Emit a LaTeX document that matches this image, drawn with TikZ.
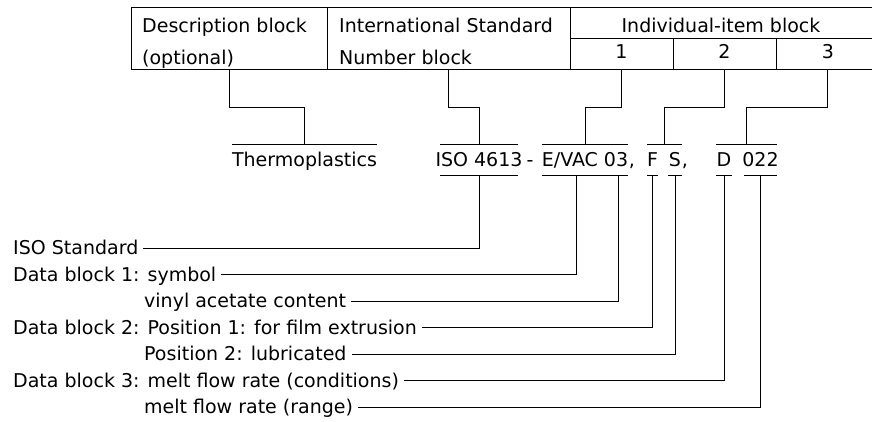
\documentclass[tikz,border=0pt]{standalone}
\usepackage{fontspec}
\setmainfont{DejaVu Sans}
\usetikzlibrary{calc}
\tikzset{
  cell/.style ={rectangle, draw=black, line width=0.9pt, inner sep=0pt},
  txt/.style  ={font=\fontsize{19}{22}\selectfont, inner sep=0pt},
  code/.style ={txt, minimum height=31pt, text height=13.9pt, text depth=0pt},
  lab/.style  ={txt, inner xsep=5pt, text height=13.9pt, text depth=0pt, anchor=west},
  ln/.style   ={draw=black, line width=0.9pt},
}

\begin{document}
\begin{tikzpicture}[x=1pt, y=-1pt]
\path[use as bounding box] (0,0) rectangle (872,421);
\clip (0,0) rectangle (872,421);
% table of blocks
\node[cell, minimum width=196pt, minimum height=62pt] (desc) at (229,38) {};
\node[cell, minimum width=243pt, minimum height=62pt] (isn) at (448.5,38) {};
\node[cell, minimum width=310pt, minimum height=31pt] (head) at (725,22.5) {};
\node[cell, minimum width=103pt, minimum height=31pt] (c1) at (621.5,53.5) {};
\node[cell, minimum width=103pt, minimum height=31pt] (c2) at (724.5,53.5) {};
\node[cell, minimum width=103pt, minimum height=31pt] (c3) at (827.5,53.5) {};
\node[txt, anchor=base west] (desct) at (142,32) {Description block};
\node[txt, anchor=base west] (desco) at (142,64) {(optional)};
\node[txt, anchor=base west] (isnt) at (339,32) {International Standard};
\node[txt, anchor=base west] (isnn) at (339,64) {Number block};
\node[txt, anchor=base] (headt) at (721,32) {Individual-item block};
\node[txt, anchor=base] (n1) at (621.5,58) {1};
\node[txt, anchor=base] (n2) at (724.5,58) {2};
\node[txt, anchor=base] (n3) at (828,58) {3};
% designation
\node[code] (thermo) at (304.5,160) {\makebox[145pt]{Thermoplastics}};
\node[code] (iso) at (479,160) {\makebox[78pt]{ISO 4613}};
\node[code] (dash) at (530,160) {-};
\node[code] (evac) at (585,160) {\makebox[86pt]{E/VAC 03}};
\node[code] (comA) at (632,160) {,};
\node[code] (fpos) at (652.5,160) {\makebox[11pt]{F}};
\node[code] (spos) at (675,160) {\makebox[14pt]{S}};
\node[code] (comB) at (685,160) {,};
\node[code] (dpos) at (724,160) {\makebox[16pt]{D}};
\node[code] (rng) at (760.5,160) {\makebox[33pt]{022}};
\draw[ln] (thermo.north west) -- (thermo.north east);
\draw[ln] (iso.north west) -- (iso.north east);
\draw[ln] (evac.north west) -- (evac.north east);
\draw[ln] (fpos.north west) -- (spos.north east);
\draw[ln] (dpos.north west) -- (rng.north east);
\draw[ln] (iso.south west) -- (iso.south east);
\draw[ln] (evac.south west) -- (evac.south east);
\draw[ln] (fpos.south west) -- (fpos.south east);
\draw[ln] (spos.south west) -- (spos.south east);
\draw[ln] (dpos.south west) -- (dpos.south east);
\draw[ln] (rng.south west) -- (rng.south east);
% blocks to designation
\draw[ln] (desc.south) -- ++(0,38) -| (thermo.north);
\draw[ln] (isn.south) -- ++(0,38) -| (iso.north);
\draw[ln] (c1.south) -- ++(0,37.5) -| (evac.north);
\draw[ln] (c2.south) -- ++(0,37.5) -| ($(fpos.north west)!0.5!(spos.north east)$);
\draw[ln] (c3.south) -- ++(0,37.5) -| ($(dpos.north west)!0.5!(rng.north east)$);
% explanations
\node[lab] (labstd) at (8,248) {ISO Standard};
\node[lab] (labsym) at (8,274.5) {Data block 1: symbol};
\node[lab] (labvac) at (139,301) {vinyl acetate content};
\node[lab] (labfilm) at (8,327.5) {Data block 2: Position 1: for film extrusion};
\node[lab] (lablub) at (139,354) {Position 2: lubricated};
\node[lab] (labcond) at (8,380.5) {Data block 3: melt flow rate (conditions)};
\node[lab] (labrng) at (139,407) {melt flow rate (range)};
\draw[ln] (iso.south) |- (labstd.east);
\draw[ln] ([xshift=-9pt]evac.south) |- (labsym.east);
\draw[ln] ([xshift=33pt]evac.south) |- (labvac.east);
\draw[ln] (fpos.south) |- (labfilm.east);
\draw[ln] (spos.south) |- (lablub.east);
\draw[ln] (dpos.south) |- (labcond.east);
\draw[ln] (rng.south) |- (labrng.east);
\end{tikzpicture}
\end{document}
